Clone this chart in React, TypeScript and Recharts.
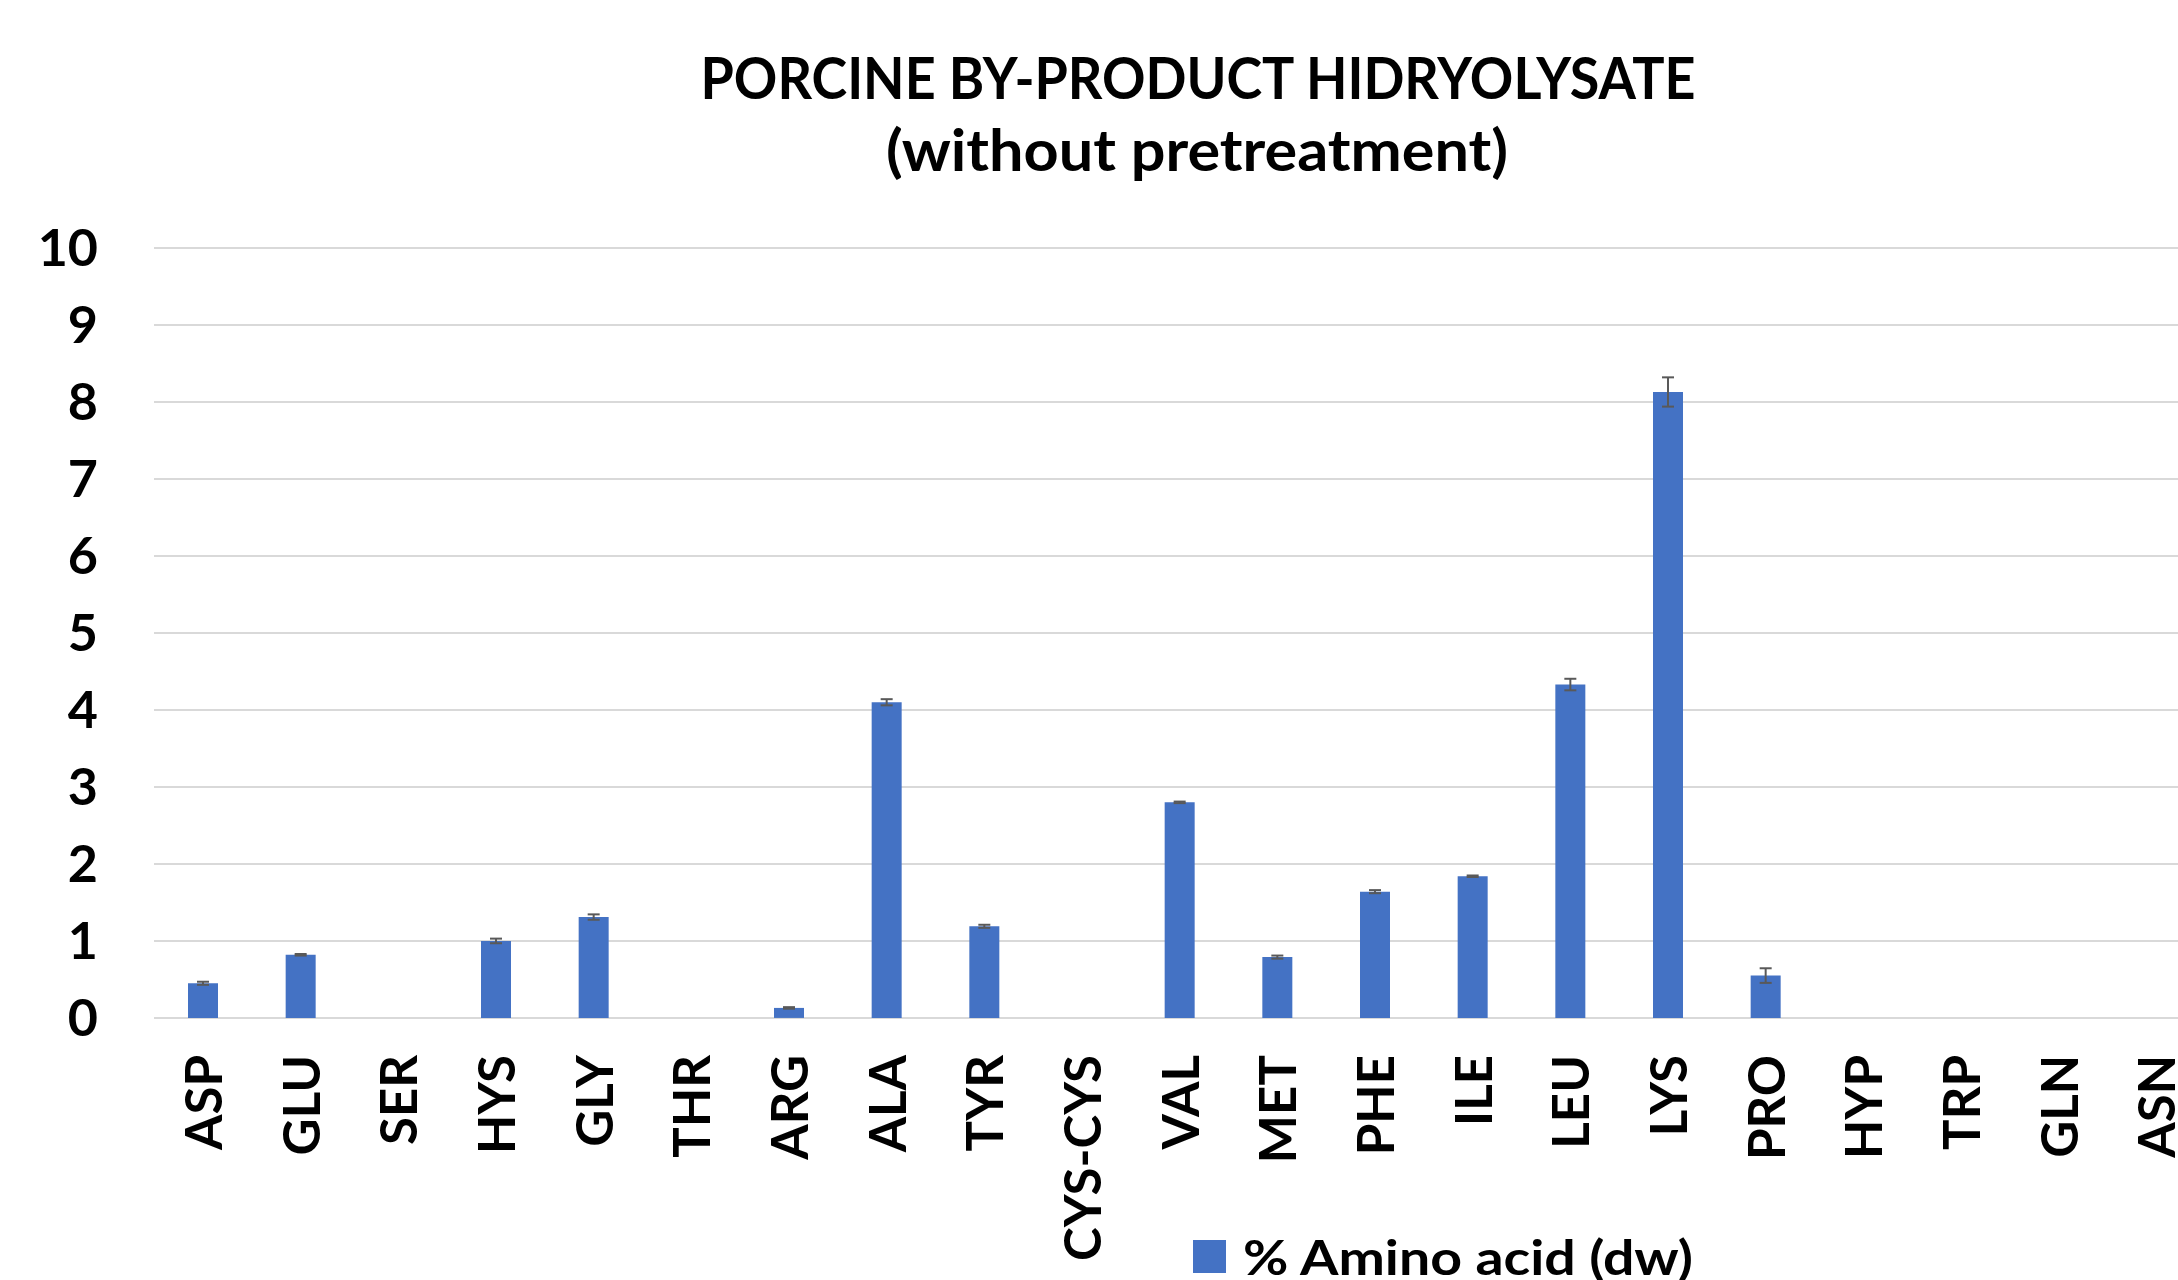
import React from 'react';
import { BarChart, Bar, XAxis, YAxis, CartesianGrid, ErrorBar } from 'recharts';

// amino acid profile, % of dry weight
const aminoAcids = [
  'ASP', 'GLU', 'SER', 'HYS', 'GLY', 'THR', 'ARG', 'ALA', 'TYR', 'CYS-CYS', 'VAL',
  'MET', 'PHE', 'ILE', 'LEU', 'LYS', 'PRO', 'HYP', 'TRP', 'GLN', 'ASN',
];
const percentDw = [
  0.45, 0.82, 0, 1.0, 1.31, 0, 0.13, 4.1, 1.19, 0, 2.8,
  0.79, 1.64, 1.84, 4.33, 8.13, 0.55, 0, 0, 0, 0,
];
// zero rows still show a tiny cap in the figure
const stdDev = [
  0.02, 0.01, 0.001, 0.03, 0.035, 0.001, 0.01, 0.04, 0.02, 0.001, 0.01,
  0.02, 0.02, 0.01, 0.075, 0.19, 0.095, 0.001, 0.001, 0.001, 0.001,
];
const yTicks = [0, 1, 2, 3, 4, 5, 6, 7, 8, 9, 10];

const titleLines = ['PORCINE BY-PRODUCT HIDRYOLYSATE', '(without pretreatment)'];
const seriesName = '% Amino acid (dw)';

const data = aminoAcids.map((name, i) => ({ name, value: percentDw[i], err: stdDev[i] }));

const FONT = "Lato, 'Open Sans', sans-serif";
const BAR_COLOR = '#4472C4';

const YTick = (props: any) => {
  const { x, y, payload } = props;
  return (
    <text x={x} y={y} dy={18} textAnchor="end" fontFamily={FONT} fontWeight={700} fontSize={52} fill="#000">
      {payload.value}
    </text>
  );
};

const XTick = (props: any) => {
  const { x, y, payload } = props;
  return (
    <g transform={`translate(${x},${y})`}>
      <text transform="rotate(-90)" dy={19} textAnchor="end" fontFamily={FONT} fontWeight={700} fontSize={51} fill="#000">
        {payload.value}
      </text>
    </g>
  );
};

const App: React.FC = () => {
  return (
    <div style={{ position: 'fixed', left: 0, top: 0, width: 2178, height: 1280, overflow: 'hidden', background: '#fff' }}>
      <div style={{ position: 'absolute', left: 0, top: 0 }}>
        <BarChart width={2240} height={1280} data={data} margin={{ top: 248, right: 35, bottom: 0, left: 0 }}>
          <CartesianGrid vertical={false} stroke="#d9d9d9" strokeWidth={2} />
          <XAxis
            dataKey="name"
            height={262}
            interval={0}
            tickLine={false}
            axisLine={false}
            tickMargin={31}
            tick={<XTick />}
          />
          <YAxis
            width={154}
            domain={[0, 10]}
            ticks={yTicks}
            interval={0}
            axisLine={false}
            tickLine={false}
            tickMargin={50}
            tick={<YTick />}
          />
          <Bar dataKey="value" fill={BAR_COLOR} barSize={30} isAnimationActive={false}>
            <ErrorBar dataKey="err" width={6} strokeWidth={2} stroke="#595959" direction="y" isAnimationActive={false} />
          </Bar>
        </BarChart>
      </div>
      <svg width={2178} height={1280} style={{ position: 'absolute', left: 0, top: 0, pointerEvents: 'none' }}>
        <text x={1198} y={99} textAnchor="middle" fontFamily={FONT} fontWeight={700} fontSize={57}
          textLength={995} lengthAdjust="spacingAndGlyphs">
          {titleLines[0]}
        </text>
        <text x={1197} y={171} textAnchor="middle" fontFamily={FONT} fontWeight={700} fontSize={57}
          textLength={622} lengthAdjust="spacingAndGlyphs">
          {titleLines[1]}
        </text>
        <rect x={1193} y={1240} width={33} height={33} fill={BAR_COLOR} />
        <text x={1243} y={1275} fontFamily={FONT} fontWeight={700} fontSize={47}
          textLength={450} lengthAdjust="spacingAndGlyphs">
          {seriesName}
        </text>
      </svg>
    </div>
  );
};

export default App;
